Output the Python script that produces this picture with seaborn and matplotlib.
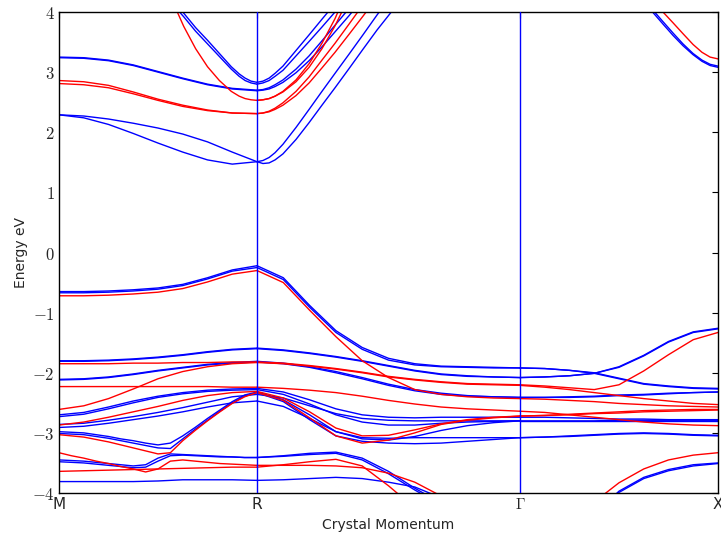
import numpy as np
import pandas as pd
import matplotlib
matplotlib.use("Agg")
import matplotlib.pyplot as plt
import seaborn as sns
from matplotlib.ticker import FuncFormatter

# high-symmetry points and their positions along the path
kpoint_labels = ["M", "R", r"$\Gamma$", "X"]
kpoint_pos = [0.0, 1.0, 2.328, 3.328]

# k sample positions (path coordinate) used by the band tables below
k_seg1 = [0.0, 0.125, 0.25, 0.375, 0.5, 0.625, 0.75, 0.875, 1.0]
k_seg1_fine = [0.0, 0.0625, 0.125, 0.1875, 0.25, 0.3125, 0.375, 0.4375, 0.5,
               0.5625, 0.625, 0.6875, 0.75, 0.8125, 0.875, 0.9375, 1.0]
k_R_left = [0.44, 0.55, 0.63, 0.69, 0.75, 0.81, 0.87, 0.91, 0.94, 0.97, 1.0]
k_R_right = [1.0, 1.03, 1.061, 1.091, 1.131, 1.197, 1.263, 1.328, 1.394,
             1.465, 1.535, 1.606, 1.707]
k_seg2 = [1.0, 1.1328, 1.2656, 1.3984, 1.5312, 1.664, 1.7968, 1.9296,
          2.0624, 2.1952, 2.328]
k_seg3 = [2.328, 2.453, 2.578, 2.703, 2.828, 2.953, 3.078, 3.203, 3.328]
k_X_left = [2.924, 3.0, 3.05, 3.101, 3.151, 3.202, 3.247, 3.288, 3.328]

# ---------------- segment M -> R (energies in eV) ----------------
mr_up = [
    [3.25, 3.24, 3.20, 3.12, 3.01, 2.90, 2.80, 2.73, 2.70],
    [3.24, 3.23, 3.19, 3.11, 3.00, 2.89, 2.79, 2.72, 2.69],
    [2.29, 2.27, 2.22, 2.15, 2.07, 1.97, 1.84, 1.67, 1.51],
    [2.29, 2.24, 2.13, 1.98, 1.82, 1.67, 1.54, 1.47, 1.51],
    [-0.65, -0.65, -0.64, -0.62, -0.59, -0.53, -0.42, -0.29, -0.22],
    [-0.67, -0.67, -0.66, -0.64, -0.61, -0.55, -0.44, -0.31, -0.25],
    [-1.80, -1.80, -1.79, -1.77, -1.74, -1.70, -1.65, -1.61, -1.59],
    [-1.81, -1.81, -1.80, -1.78, -1.75, -1.71, -1.66, -1.62, -1.60],
    [-2.11, -2.10, -2.07, -2.02, -1.96, -1.91, -1.86, -1.83, -1.81],
    [-2.12, -2.11, -2.08, -2.03, -1.97, -1.92, -1.87, -1.84, -1.82],
    [-2.70, -2.66, -2.57, -2.47, -2.39, -2.33, -2.29, -2.27, -2.26],
    [-2.73, -2.69, -2.60, -2.50, -2.41, -2.35, -2.31, -2.29, -2.28],
    [-2.86, -2.84, -2.79, -2.73, -2.66, -2.58, -2.49, -2.40, -2.36],
    [-2.91, -2.89, -2.84, -2.78, -2.72, -2.65, -2.57, -2.50, -2.47],
    [-3.81, -3.81, -3.81, -3.81, -3.80, -3.78, -3.78, -3.78, -3.79],
]
mr_dn = [
    [2.86, 2.84, 2.78, 2.67, 2.55, 2.45, 2.37, 2.32, 2.31],
    [2.81, 2.79, 2.74, 2.64, 2.53, 2.43, 2.36, 2.32, 2.31],
    [-0.72, -0.72, -0.71, -0.69, -0.66, -0.60, -0.49, -0.36, -0.30],
    [-1.85, -1.85, -1.85, -1.84, -1.84, -1.83, -1.83, -1.82, -1.82],
    [-2.61, -2.55, -2.43, -2.27, -2.10, -1.98, -1.90, -1.85, -1.83],
    [-2.23, -2.23, -2.23, -2.23, -2.23, -2.23, -2.23, -2.24, -2.24],
    [-2.87, -2.82, -2.74, -2.65, -2.56, -2.46, -2.38, -2.33, -2.31],
    [-3.64, -3.63, -3.62, -3.61, -3.60, -3.59, -3.58, -3.57, -3.57],
]
mr_fine_up = [
    [-2.98, -2.99, -3.00, -3.03, -3.06, -3.10, -3.13, -3.17, -3.20,
     -3.17, -3.05, -2.91, -2.76, -2.62, -2.48, -2.37, -2.32],
    [-3.01, -3.02, -3.03, -3.06, -3.09, -3.13, -3.17, -3.21, -3.25,
     -3.26, -3.10, -2.94, -2.79, -2.64, -2.50, -2.39, -2.33],
    [-3.45, -3.46, -3.47, -3.49, -3.51, -3.53, -3.55, -3.53, -3.42,
     -3.35, -3.36, -3.37, -3.38, -3.39, -3.40, -3.41, -3.41],
    [-3.48, -3.49, -3.50, -3.52, -3.54, -3.56, -3.58, -3.57, -3.47,
     -3.38, -3.37, -3.38, -3.39, -3.40, -3.40, -3.41, -3.41],
]
mr_fine_dn = [
    [-3.03, -3.05, -3.07, -3.11, -3.15, -3.20, -3.25, -3.30, -3.35,
     -3.33, -3.13, -2.96, -2.80, -2.65, -2.51, -2.40, -2.33],
    [-3.33, -3.38, -3.42, -3.47, -3.51, -3.56, -3.60, -3.65, -3.60,
     -3.47, -3.45, -3.47, -3.49, -3.51, -3.52, -3.53, -3.54],
]
mr_parab_up = [
    [4.85, 4.28, 3.98, 3.74, 3.53, 3.31, 3.09, 2.97, 2.90, 2.85, 2.83],
    [4.80, 4.22, 3.92, 3.68, 3.47, 3.26, 3.05, 2.93, 2.86, 2.82, 2.80],
]
mr_parab_dn = [
    [5.36, 4.35, 3.76, 3.39, 3.09, 2.86, 2.68, 2.60, 2.56, 2.54, 2.53],
]

# ---------------- segment R -> Gamma ----------------
rg_parab_up = [
    [2.83, 2.85, 2.90, 2.98, 3.10, 3.36, 3.62, 3.88, 4.14, 4.42, 4.70, 5.00, 5.40],
    [2.80, 2.82, 2.86, 2.93, 3.03, 3.27, 3.51, 3.75, 4.00, 4.27, 4.55, 4.83, 5.20],
    [2.70, 2.71, 2.74, 2.79, 2.87, 3.05, 3.27, 3.52, 3.78, 4.06, 4.35, 4.65, 5.05],
    [2.69, 2.70, 2.72, 2.76, 2.83, 2.99, 3.19, 3.42, 3.67, 3.94, 4.22, 4.50, 4.90],
    [1.51, 1.53, 1.58, 1.66, 1.80, 2.08, 2.38, 2.68, 2.98, 3.30, 3.62, 3.95, 4.40],
    [1.51, 1.48, 1.49, 1.54, 1.64, 1.88, 2.16, 2.45, 2.74, 3.06, 3.38, 3.70, 4.12],
]
rg_parab_dn = [
    [2.53, 2.54, 2.56, 2.60, 2.68, 2.87, 3.14, 3.48, 3.89, 4.43, 5.00, 5.70, 6.90],
    [2.53, 2.54, 2.56, 2.60, 2.67, 2.84, 3.08, 3.39, 3.77, 4.25, 4.81, 5.45, 6.50],
    [2.31, 2.32, 2.35, 2.40, 2.49, 2.68, 2.92, 3.20, 3.48, 3.80, 4.12, 4.44, 4.90],
    [2.31, 2.32, 2.34, 2.38, 2.45, 2.61, 2.82, 3.07, 3.33, 3.63, 3.93, 4.24, 4.70],
]
rg_up = [
    [-0.22, -0.42, -0.88, -1.30, -1.58, -1.76, -1.85, -1.89, -1.90, -1.91, -1.92],
    [-0.25, -0.45, -0.91, -1.33, -1.61, -1.79, -1.87, -1.90, -1.91, -1.92, -1.92],
    [-1.59, -1.62, -1.67, -1.73, -1.80, -1.88, -1.96, -2.02, -2.05, -2.07, -2.08],
    [-1.60, -1.63, -1.68, -1.74, -1.81, -1.89, -1.97, -2.03, -2.06, -2.07, -2.08],
    [-1.81, -1.84, -1.90, -1.98, -2.08, -2.19, -2.28, -2.34, -2.38, -2.40, -2.41],
    [-1.82, -1.85, -1.91, -2.00, -2.10, -2.21, -2.30, -2.36, -2.39, -2.40, -2.41],
    [-2.26, -2.32, -2.45, -2.60, -2.70, -2.74, -2.75, -2.74, -2.74, -2.74, -2.74],
    [-2.28, -2.36, -2.52, -2.70, -2.82, -2.87, -2.87, -2.84, -2.82, -2.81, -2.80],
    [-2.32, -2.45, -2.70, -2.98, -3.08, -3.09, -3.08, -3.08, -3.08, -3.08, -3.08],
    [-2.33, -2.48, -2.78, -3.05, -3.14, -3.17, -3.18, -3.17, -3.14, -3.11, -3.08],
    [-2.36, -2.42, -2.55, -2.68, -2.76, -2.79, -2.80, -2.80, -2.80, -2.80, -2.80],
    [-2.47, -2.56, -2.76, -2.98, -3.10, -3.12, -3.06, -2.96, -2.88, -2.83, -2.80],
    [-3.41, -3.38, -3.34, -3.32, -3.42, -3.64, -3.92, -4.17, -4.40, -4.60, -4.80],
    [-3.41, -3.39, -3.36, -3.34, -3.45, -3.68, -3.95, -4.20, -4.42, -4.62, -4.82],
    [-3.79, -3.78, -3.76, -3.74, -3.76, -3.82, -3.90, -4.08, -4.30, -4.50, -4.70],
]
rg_dn = [
    [-0.30, -0.50, -0.96, -1.40, -1.80, -2.08, -2.28, -2.36, -2.40, -2.42, -2.43],
    [-1.82, -1.84, -1.88, -1.93, -1.99, -2.06, -2.11, -2.15, -2.18, -2.19, -2.20],
    [-1.83, -1.85, -1.89, -1.94, -2.00, -2.07, -2.12, -2.16, -2.19, -2.20, -2.21],
    [-2.24, -2.26, -2.29, -2.33, -2.39, -2.46, -2.52, -2.57, -2.60, -2.62, -2.64],
    [-2.31, -2.42, -2.65, -2.92, -3.05, -3.04, -2.95, -2.85, -2.78, -2.74, -2.72],
    [-2.33, -2.46, -2.75, -3.05, -3.17, -3.12, -3.00, -2.86, -2.79, -2.75, -2.72],
    [-3.57, -3.53, -3.48, -3.44, -3.55, -3.88, -4.25, -4.60, -4.90, -5.20, -5.50],
    [-3.54, -3.54, -3.54, -3.55, -3.58, -3.67, -3.82, -4.05, -4.30, -4.50, -4.70],
]

# ---------------- segment Gamma -> X ----------------
gx_up = [
    [-2.08, -2.07, -2.05, -2.01, -1.90, -1.71, -1.48, -1.32, -1.26],
    [-2.08, -2.07, -2.05, -2.01, -1.91, -1.72, -1.49, -1.33, -1.27],
    [-1.92, -1.93, -1.96, -2.00, -2.09, -2.18, -2.22, -2.25, -2.26],
    [-1.92, -1.93, -1.96, -2.01, -2.10, -2.19, -2.23, -2.26, -2.27],
    [-2.41, -2.41, -2.40, -2.39, -2.37, -2.36, -2.34, -2.33, -2.32],
    [-2.41, -2.41, -2.41, -2.40, -2.38, -2.37, -2.35, -2.33, -2.32],
    [-2.74, -2.74, -2.75, -2.76, -2.77, -2.77, -2.78, -2.78, -2.78],
    [-2.80, -2.80, -2.80, -2.80, -2.79, -2.79, -2.79, -2.79, -2.79],
    [-2.80, -2.80, -2.80, -2.80, -2.80, -2.80, -2.80, -2.80, -2.80],
    [-3.08, -3.07, -3.05, -3.03, -3.01, -3.00, -3.01, -3.03, -3.04],
    [-3.08, -3.07, -3.06, -3.04, -3.02, -3.01, -3.02, -3.04, -3.05],
    [-6.00, -5.50, -4.90, -4.35, -3.97, -3.74, -3.61, -3.53, -3.50],
    [-6.00, -5.50, -4.90, -4.37, -3.99, -3.76, -3.63, -3.55, -3.51],
]
gx_dn = [
    [-2.20, -2.22, -2.25, -2.28, -2.20, -1.97, -1.70, -1.45, -1.33],
    [-2.21, -2.24, -2.28, -2.33, -2.38, -2.43, -2.47, -2.51, -2.53],
    [-2.43, -2.44, -2.46, -2.48, -2.51, -2.53, -2.55, -2.56, -2.57],
    [-2.64, -2.66, -2.70, -2.74, -2.78, -2.82, -2.85, -2.87, -2.88],
    [-2.72, -2.71, -2.70, -2.68, -2.67, -2.65, -2.64, -2.63, -2.62],
    [-2.72, -2.71, -2.69, -2.67, -2.65, -2.63, -2.62, -2.61, -2.61],
    [-5.50, -5.00, -4.55, -4.15, -3.83, -3.60, -3.45, -3.37, -3.33],
]
gx_parab_up = [
    [4.32, 4.03, 3.84, 3.65, 3.47, 3.31, 3.20, 3.13, 3.10],
    [4.28, 3.99, 3.80, 3.61, 3.44, 3.29, 3.18, 3.11, 3.08],
]
gx_parab_dn = [
    [4.50, 4.20, 4.00, 3.82, 3.64, 3.46, 3.33, 3.25, 3.22],
]


def build_frame(groups):
    rows = []
    uid = 0
    for kgrid, bands in groups:
        for vals in bands:
            for kk, e in zip(kgrid, vals):
                rows.append({"k": kk, "E": e, "unit": uid})
            uid += 1
    return pd.DataFrame(rows)


df_up = build_frame([(k_seg1, mr_up), (k_seg1_fine, mr_fine_up),
                     (k_R_left, mr_parab_up), (k_R_right, rg_parab_up),
                     (k_seg2, rg_up), (k_seg3, gx_up), (k_X_left, gx_parab_up)])
df_dn = build_frame([(k_seg1, mr_dn), (k_seg1_fine, mr_fine_dn),
                     (k_R_left, mr_parab_dn), (k_R_right, rg_parab_dn),
                     (k_seg2, rg_dn), (k_seg3, gx_dn), (k_X_left, gx_parab_dn)])

sns.set_style("white")
plt.rcParams["font.family"] = ["DejaVu Sans"]
plt.rcParams["mathtext.fontset"] = "cm"

fig = plt.figure(figsize=(7.21, 5.36), dpi=100)
ax = fig.add_axes([59 / 721, 1 - 493 / 536, (718 - 59) / 721, (493 - 12) / 536])

sns.lineplot(data=df_up, x="k", y="E", units="unit", estimator=None, sort=False,
             color="#0000ff", lw=1.0, ax=ax)
sns.lineplot(data=df_dn, x="k", y="E", units="unit", estimator=None, sort=False,
             color="#ff0000", lw=1.0, ax=ax)

for kp in kpoint_pos[1:-1]:
    ax.axvline(kp, color="#0000ff", lw=1.0, zorder=3)

ax.set_xlim(kpoint_pos[0], kpoint_pos[-1])
ax.set_ylim(-4, 4)
ax.set_xticks(kpoint_pos)
ax.set_xticklabels(kpoint_labels, fontsize=11)
ax.set_yticks(range(-4, 5))
ax.yaxis.set_major_formatter(FuncFormatter(lambda v, _: f"${v:.0f}$"))
ax.tick_params(axis="y", labelsize=12)
ax.tick_params(direction="in", top=True, right=True, length=4, width=0.8,
               color="black", pad=3)
for sp in ax.spines.values():
    sp.set_color("black")
    sp.set_linewidth(1.0)

ax.set_xlabel("Crystal Momentum", fontsize=10, labelpad=4)
ax.set_ylabel("Energy eV", fontsize=10, labelpad=3)

fig.savefig("out.png", dpi=100)
